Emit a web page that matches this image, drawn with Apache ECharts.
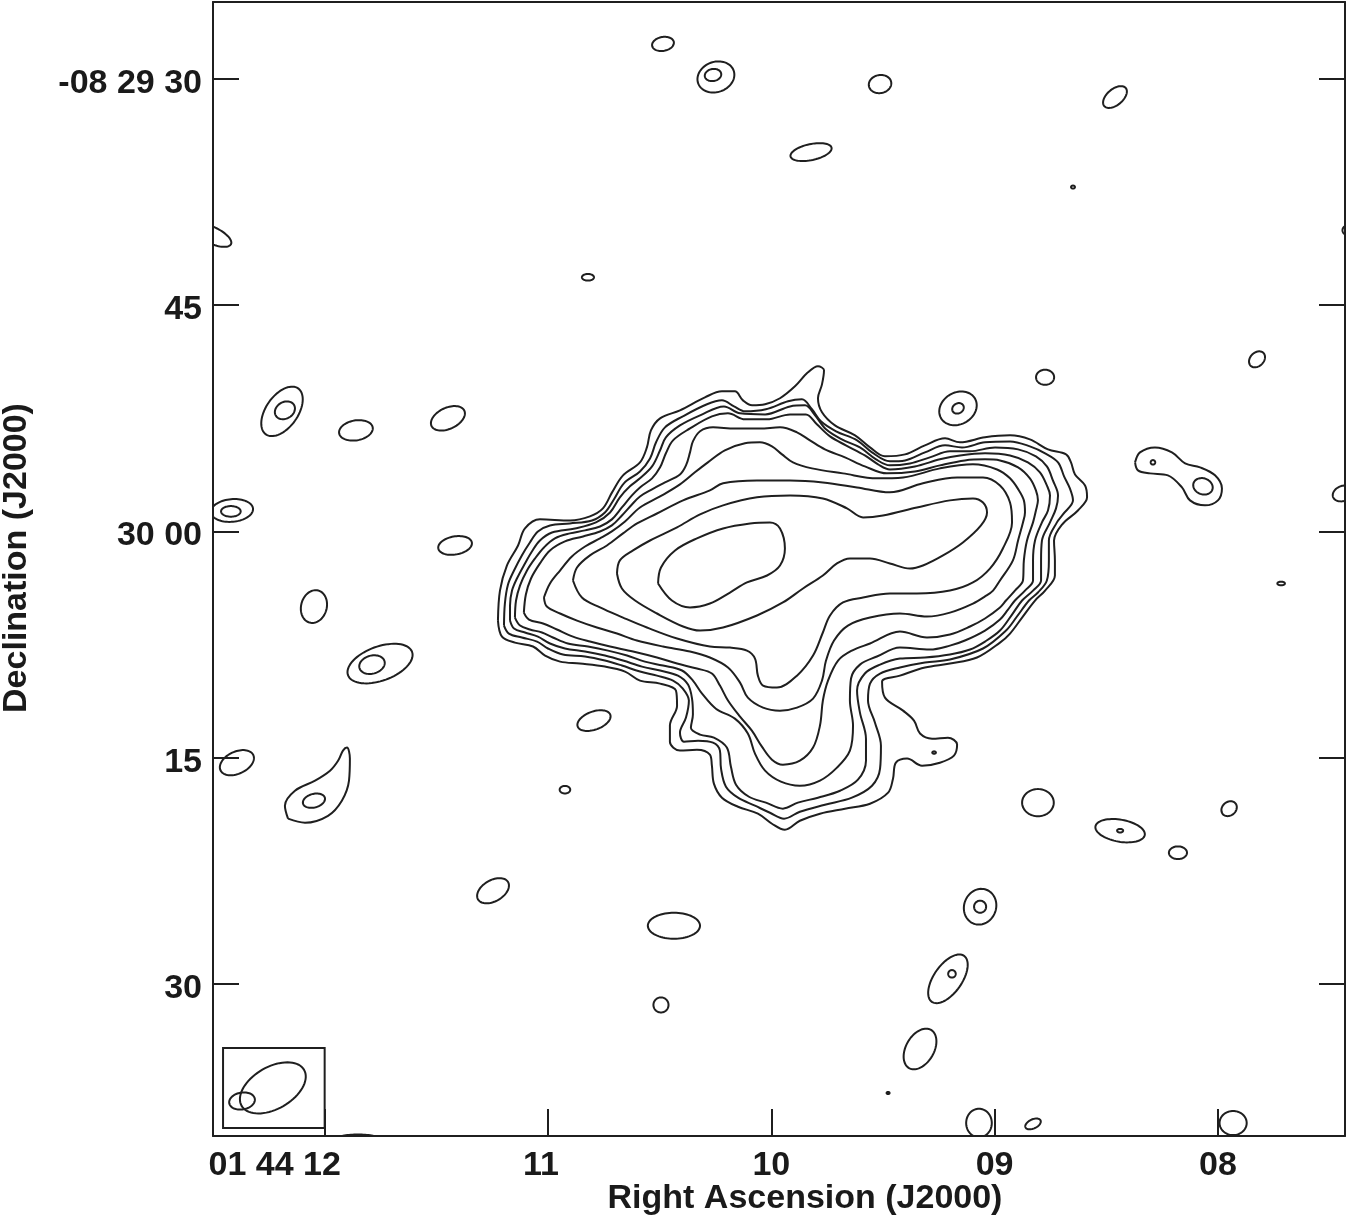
<!DOCTYPE html>
<html><head><meta charset="utf-8">
<script src="https://cdn.jsdelivr.net/npm/echarts@6/dist/echarts.min.js"></script>
<style>html,body{margin:0;padding:0;background:#fff}#c{width:1350px;height:1219px}</style>
</head><body><div id="c"></div>
<script>
// Axis ticks (RA in seconds of 01h44m, Dec in arcsec below -08d29m00s)
const raTicks = [12, 11, 10, 9, 8];
const raTickLabels = ['01 44 12', '11', '10', '09', '08'];
const decTicks = [30, 45, 60, 75, 90];
const decTickLabels = ['-08 29 30', '45', '30 00', '15', '30'];
const raRange = [7.431, 12.5];
const decRange = [24.9, 100.08];

// Main source contours, outermost (L1) to peak (L9): [RA s, Dec arcsec]
const contourL1 = [[11.224,65.91],[11.215,63.92],[11.184,62.26],[11.134,60.93],[11.103,59.80],[11.036,59.20],[10.901,59.27],[10.812,59.00],[10.754,58.47],[10.713,57.41],[10.664,56.28],[10.588,55.42],[10.557,54.43],[10.539,53.30],[10.498,52.50],[10.409,51.97],[10.297,51.11],[10.221,50.71],[10.163,50.71],[10.127,51.31],[10.086,51.64],[10.028,51.57],[9.961,51.17],[9.894,50.38],[9.836,49.45],[9.791,49.05],[9.764,49.32],[9.773,50.25],[9.791,51.17],[9.773,52.10],[9.715,52.97],[9.625,53.63],[9.558,54.43],[9.491,55.02],[9.401,54.89],[9.312,54.29],[9.222,53.83],[9.155,54.09],[9.043,53.76],[8.931,53.63],[8.842,53.90],[8.761,54.56],[8.680,54.89],[8.658,55.42],[8.640,56.22],[8.595,56.95],[8.586,57.74],[8.627,58.61],[8.698,59.54],[8.734,60.60],[8.730,61.92],[8.730,62.92],[8.774,63.92],[8.819,64.58],[8.877,65.71],[8.931,66.77],[8.976,67.37],[9.079,68.36],[9.200,68.76],[9.312,69.02],[9.424,69.56],[9.504,69.95],[9.491,71.02],[9.410,71.88],[9.361,72.54],[9.334,73.40],[9.280,73.74],[9.209,73.67],[9.168,74.13],[9.182,74.86],[9.245,75.33],[9.325,75.53],[9.392,75.06],[9.442,75.33],[9.455,76.39],[9.477,77.32],[9.558,78.05],[9.670,78.38],[9.782,78.71],[9.872,79.18],[9.939,79.78],[9.997,79.38],[10.060,78.71],[10.149,78.25],[10.221,77.65],[10.257,76.72],[10.266,75.53],[10.275,74.80],[10.333,74.47],[10.409,74.53],[10.454,73.94],[10.454,72.87],[10.422,71.55],[10.427,70.55],[10.498,70.09],[10.588,69.89],[10.655,69.29],[10.745,68.96],[10.857,68.76],[10.946,68.63],[11.013,68.23],[11.067,67.63],[11.148,67.37],[11.206,66.97]];
const contourL2 = [[11.197,66.24],[11.193,64.78],[11.179,63.52],[11.152,62.59],[11.117,61.59],[11.081,60.73],[11.045,60.00],[10.991,59.60],[10.902,59.47],[10.803,59.27],[10.745,58.74],[10.705,57.88],[10.660,56.81],[10.588,56.02],[10.543,55.16],[10.516,54.09],[10.476,53.10],[10.396,52.37],[10.288,51.57],[10.221,51.31],[10.167,51.71],[10.118,52.04],[10.024,51.90],[9.925,51.37],[9.863,51.24],[9.818,51.90],[9.778,52.70],[9.710,53.36],[9.616,53.96],[9.549,54.76],[9.469,55.35],[9.401,55.29],[9.312,54.76],[9.222,54.29],[9.146,54.43],[9.043,54.09],[8.931,54.03],[8.842,54.36],[8.774,54.82],[8.716,55.42],[8.689,56.35],[8.663,57.15],[8.649,57.94],[8.694,58.87],[8.721,59.40],[8.757,60.60],[8.757,61.92],[8.766,63.25],[8.806,64.05],[8.846,64.58],[8.900,65.64],[8.949,66.57],[9.052,67.76],[9.200,68.49],[9.312,68.69],[9.424,69.02],[9.513,69.42],[9.558,70.09],[9.567,71.21],[9.536,72.67],[9.509,74.20],[9.513,75.73],[9.549,76.86],[9.639,77.65],[9.760,78.12],[9.872,78.58],[9.943,79.04],[10.006,78.65],[10.073,78.18],[10.149,77.65],[10.203,76.92],[10.225,75.73],[10.230,74.53],[10.261,74.00],[10.328,73.87],[10.391,73.94],[10.409,73.34],[10.382,72.34],[10.369,71.21],[10.396,70.42],[10.440,69.89],[10.512,69.56],[10.588,69.29],[10.669,68.89],[10.745,68.56],[10.834,68.29],[10.933,68.16],[11.000,67.76],[11.049,67.30],[11.117,67.03],[11.175,66.77]];
const contourL3 = [[11.170,65.91],[11.170,64.91],[11.161,63.92],[11.139,63.12],[11.103,62.12],[11.072,61.33],[11.036,60.60],[10.982,60.07],[10.879,59.80],[10.785,59.40],[10.722,58.74],[10.678,57.74],[10.633,57.01],[10.588,56.48],[10.534,55.69],[10.498,54.62],[10.472,53.76],[10.409,52.97],[10.319,52.30],[10.212,51.71],[10.140,52.17],[10.028,52.24],[9.916,51.71],[9.849,51.64],[9.804,52.30],[9.755,53.23],[9.684,53.90],[9.603,54.43],[9.531,55.22],[9.469,55.62],[9.379,55.49],[9.290,55.09],[9.200,54.69],[9.110,54.69],[8.998,54.43],[8.895,54.56],[8.815,55.02],[8.766,55.69],[8.739,56.62],[8.716,57.61],[8.725,58.47],[8.752,59.40],[8.788,60.60],[8.792,61.92],[8.792,63.25],[8.828,63.92],[8.877,64.58],[8.922,65.51],[8.976,66.57],[9.043,67.30],[9.110,67.83],[9.200,68.16],[9.312,68.36],[9.424,68.43],[9.513,68.83],[9.581,69.42],[9.616,70.55],[9.603,72.01],[9.576,73.74],[9.576,75.20],[9.612,76.46],[9.692,77.19],[9.791,77.65],[9.881,77.98],[9.948,78.38],[10.024,77.98],[10.100,77.59],[10.158,76.79],[10.181,75.59],[10.199,74.33],[10.257,73.67],[10.319,73.47],[10.360,73.01],[10.351,72.14],[10.355,71.08],[10.373,70.15],[10.418,69.56],[10.498,69.22],[10.579,68.96],[10.664,68.56],[10.745,68.23],[10.834,67.96],[10.924,67.76],[10.991,67.43],[11.045,66.97],[11.103,66.70],[11.152,66.44]];
const contourL4 = [[11.148,65.71],[11.143,64.58],[11.125,63.58],[11.094,62.59],[11.058,61.79],[11.018,61.06],[10.969,60.46],[10.902,60.13],[10.834,59.93],[10.767,59.67],[10.714,59.20],[10.669,58.41],[10.624,57.61],[10.588,57.08],[10.534,56.48],[10.498,55.75],[10.472,54.82],[10.440,53.96],[10.364,53.17],[10.266,52.37],[10.194,52.17],[10.118,52.57],[10.019,52.57],[9.916,52.24],[9.845,52.24],[9.796,52.90],[9.737,53.70],[9.666,54.29],[9.581,54.96],[9.522,55.55],[9.469,55.89],[9.357,55.69],[9.245,55.22],[9.155,54.96],[9.043,54.82],[8.931,54.96],[8.851,55.42],[8.797,56.08],[8.766,56.95],[8.752,57.61],[8.761,58.61],[8.788,59.40],[8.819,60.60],[8.828,61.92],[8.828,63.25],[8.864,63.92],[8.909,64.58],[8.940,65.18],[8.976,65.84],[9.043,66.57],[9.133,67.23],[9.200,67.57],[9.290,67.83],[9.424,67.70],[9.527,68.29],[9.603,68.83],[9.643,69.75],[9.648,71.21],[9.634,72.87],[9.648,74.53],[9.706,75.66],[9.782,76.52],[9.872,76.86],[9.957,76.59],[10.028,75.86],[10.073,74.73],[10.105,73.40],[10.163,72.41],[10.248,71.75],[10.310,70.75],[10.351,69.89],[10.400,69.22],[10.485,68.89],[10.566,68.63],[10.646,68.23],[10.731,67.90],[10.821,67.63],[10.911,67.43],[10.978,67.03],[11.027,66.70],[11.081,66.50],[11.125,66.24]];
const contourL5 = [[11.108,65.38],[11.099,64.18],[11.076,63.12],[11.036,62.12],[10.991,61.26],[10.924,60.66],[10.843,60.33],[10.767,60.00],[10.714,59.60],[10.669,58.94],[10.624,58.21],[10.588,57.68],[10.534,57.21],[10.476,56.75],[10.409,56.22],[10.382,55.62],[10.364,54.76],[10.351,54.03],[10.319,53.36],[10.261,53.10],[10.163,53.17],[10.051,53.17],[9.961,53.10],[9.885,53.43],[9.827,53.96],[9.760,54.56],[9.670,55.09],[9.581,55.69],[9.482,56.15],[9.357,56.02],[9.245,55.62],[9.133,55.29],[9.043,55.22],[8.976,55.29],[8.895,55.75],[8.842,56.48],[8.815,57.28],[8.806,57.94],[8.815,58.61],[8.828,59.40],[8.855,60.60],[8.869,61.92],[8.873,63.25],[8.909,63.92],[8.949,64.58],[8.976,65.04],[9.043,65.77],[9.110,66.30],[9.200,66.83],[9.303,67.03],[9.424,66.64],[9.558,67.43],[9.639,67.90],[9.701,68.56],[9.746,69.89],[9.769,71.21],[9.782,72.87],[9.813,74.33],[9.872,75.20],[9.948,75.46],[9.997,75.13],[10.042,74.27],[10.087,73.21],[10.140,72.28],[10.194,71.21],[10.230,70.22],[10.266,69.42],[10.333,69.09],[10.422,68.76],[10.512,68.36],[10.619,67.96],[10.722,67.63],[10.812,67.30],[10.888,66.97],[10.960,66.50],[11.022,66.10],[11.085,65.84]];
const contourL6 = [[11.018,64.38],[10.991,63.45],[10.946,62.59],[10.893,61.66],[10.834,61.00],[10.767,60.46],[10.714,60.00],[10.655,59.34],[10.588,58.41],[10.498,57.68],[10.409,56.88],[10.342,56.08],[10.284,55.42],[10.208,54.62],[10.118,54.16],[10.051,54.09],[9.997,54.36],[9.952,54.89],[9.903,55.42],[9.818,55.82],[9.679,56.15],[9.527,56.48],[9.410,56.42],[9.245,55.82],[9.097,55.55],[8.989,55.89],[8.931,56.48],[8.891,57.28],[8.869,57.94],[8.864,58.74],[8.873,59.40],[8.895,60.60],[8.918,61.92],[8.976,63.25],[9.007,63.92],[9.043,64.31],[9.097,64.78],[9.200,65.38],[9.303,65.64],[9.424,65.44],[9.558,65.71],[9.657,66.24],[9.719,67.23],[9.755,68.56],[9.773,69.89],[9.813,71.08],[9.885,71.68],[9.961,71.88],[10.037,71.68],[10.105,71.02],[10.140,70.02],[10.194,69.02],[10.275,68.36],[10.364,67.96],[10.485,67.63],[10.602,67.23],[10.691,66.77],[10.781,66.37],[10.870,65.91],[10.946,65.44],[11.005,64.98]];
const contourL7 = [[10.888,63.25],[10.870,62.39],[10.812,61.59],[10.736,60.93],[10.664,60.13],[10.601,59.47],[10.512,58.81],[10.395,57.94],[10.275,57.28],[10.216,56.81],[10.064,56.62],[9.916,56.62],[9.769,56.75],[9.616,57.08],[9.469,57.41],[9.321,56.81],[9.168,56.42],[9.052,56.42],[8.976,56.95],[8.931,58.08],[8.922,59.40],[8.963,61.13],[9.021,62.46],[9.097,63.38],[9.200,63.92],[9.348,64.11],[9.469,64.11],[9.589,64.38],[9.679,64.71],[9.737,65.57],[9.769,66.70],[9.813,68.23],[9.885,69.56],[9.975,70.35],[10.037,70.22],[10.060,69.56],[10.073,68.43],[10.109,67.90],[10.185,67.70],[10.275,67.63],[10.422,67.10],[10.557,66.37],[10.664,65.71],[10.767,65.04],[10.848,64.38]];
const contourL8 = [[10.691,62.79],[10.678,61.92],[10.619,61.26],[10.543,60.60],[10.422,59.73],[10.319,58.87],[10.216,58.27],[10.064,57.74],[9.916,57.61],[9.769,57.81],[9.661,58.47],[9.589,59.07],[9.500,58.94],[9.348,58.41],[9.200,57.94],[9.097,57.81],[9.052,58.08],[9.034,58.74],[9.061,59.60],[9.142,60.73],[9.231,61.59],[9.321,62.26],[9.379,62.46],[9.469,62.12],[9.558,61.79],[9.648,61.79],[9.706,62.12],[9.769,62.92],[9.858,63.78],[9.948,64.71],[10.064,65.57],[10.216,66.37],[10.319,66.57],[10.395,66.30],[10.512,65.44],[10.610,64.58],[10.669,63.78]];
const contourL9 = [[10.507,63.45],[10.494,62.39],[10.431,61.26],[10.333,60.46],[10.216,59.80],[10.095,59.47],[10.006,59.40],[9.961,59.80],[9.939,61.13],[9.961,62.26],[10.019,62.92],[10.109,63.38],[10.185,64.05],[10.275,64.78],[10.364,65.04],[10.445,64.58]];
const mainContours = [contourL1, contourL2, contourL3, contourL4, contourL5, contourL6, contourL7, contourL8, contourL9];

// Irregular small contours
const blobEastTadpole = [[12.164,79.04],[12.178,78.18],[12.133,77.19],[12.043,76.52],[11.976,75.86],[11.940,75.20],[11.918,74.53],[11.900,74.33],[11.887,75.06],[11.891,76.52],[11.923,77.85],[11.985,78.85],[12.088,79.31]];
const blobWestPair = [[8.371,55.42],[8.349,54.76],[8.282,54.43],[8.206,54.76],[8.147,55.49],[8.080,55.75],[8.013,56.28],[7.982,57.15],[8.000,57.94],[8.058,58.27],[8.125,57.94],[8.161,57.08],[8.224,56.28],[8.304,56.15],[8.358,55.95]];
const irregularContours = [blobEastTadpole, blobWestPair];

// Elliptical noise contours: [RA, Dec, semi-major arcsec, semi-minor arcsec, tilt deg]
const blobs = [
 [10.485,27.68,0.73,0.46,-10],[10.248,29.87,1.25,1.0,-20],[10.261,29.74,0.55,0.4,-10],
 [9.513,30.34,0.75,0.6,-10],[8.461,31.2,0.93,0.53,-40],[9.822,34.85,1.39,0.53,-12],
 [8.649,37.17,0.13,0.1,0],[12.505,40.36,1.4,0.55,25],[7.422,40.03,0.3,0.3,0],
 [10.821,43.15,0.4,0.22,0],[7.825,48.59,0.6,0.45,-45],[8.774,49.78,0.6,0.5,0],
 [12.191,52.04,1.86,1.06,-55],[12.178,51.97,0.7,0.55,-30],[11.860,53.30,1.13,0.66,-10],
 [11.448,52.50,1.2,0.7,-25],[9.164,51.84,1.3,1.05,-30],[9.164,51.84,0.4,0.33,-30],
 [8.067,57.01,0.66,0.53,20],[8.291,55.42,0.15,0.15,0],[7.440,57.48,0.7,0.5,-20],
 [12.415,58.61,1.4,0.75,-5],[12.420,58.67,0.65,0.35,0],[11.416,60.93,1.13,0.6,-10],
 [12.048,64.98,0.85,1.1,15],[11.752,68.76,2.26,1.13,-20],[11.788,68.83,0.86,0.6,-15],
 [10.794,72.54,1.15,0.6,-20],[12.393,75.33,1.2,0.73,-25],[10.924,77.12,0.35,0.25,0],
 [12.048,77.85,0.75,0.45,-15],[9.271,74.66,0.12,0.08,0],[8.806,77.98,1.05,0.9,0],
 [7.950,78.38,0.55,0.45,-40],[8.438,79.84,1.66,0.73,10],[8.438,79.84,0.2,0.12,0],
 [8.179,81.30,0.6,0.42,0],[11.246,83.82,1.15,0.7,-30],[10.436,86.14,1.73,0.86,0],
 [9.065,84.88,1.06,1.2,20],[9.065,84.88,0.4,0.4,0],[9.209,89.66,1.86,0.93,-55],
 [9.191,89.33,0.25,0.25,0],[10.494,91.39,0.5,0.5,0],[9.334,94.31,1.46,0.93,-60],
 [9.477,97.23,0.1,0.07,0],[9.070,99.22,0.85,0.95,0],[8.828,99.28,0.55,0.3,-25],
 [7.932,99.22,0.9,0.8,0],[11.851,100.28,1.4,0.3,0],[7.717,63.45,0.25,0.12,0]
];
// Restoring beam(s) and beam box: [RA, Dec, major, minor, tilt]
const beams = [[12.232,96.89,2.39,1.39,-30],[12.370,97.76,0.86,0.56,-10]];
const beamBox = [[12.455,94.24,12.0,99.55]];

const LINE = '#1f1f1f';
const FONT = '"Liberation Sans", Arial, Helvetica, sans-serif';
const closed = a => a.concat([a[0]]);

function ellipseItem(params, api) {
  const c = api.coord([api.value(0), api.value(1)]);
  const k = Math.abs(api.size([0, 1])[1]);
  const rx = api.value(2) * k, ry = api.value(3) * k, th = api.value(4) * Math.PI / 180;
  const pts = [];
  for (let i = 0; i < 72; i++) {
    const t = i / 72 * 2 * Math.PI, x = rx * Math.cos(t), y = ry * Math.sin(t);
    pts.push([c[0] + x * Math.cos(th) - y * Math.sin(th), c[1] + x * Math.sin(th) + y * Math.cos(th)]);
  }
  return { type: 'polygon', shape: { points: pts }, style: { fill: 'none', stroke: LINE, lineWidth: 2 } };
}

const lineSeries = mainContours.concat(irregularContours).map(c => ({
  type: 'line', data: closed(c), smooth: 0.35, symbol: 'none', showSymbol: false,
  lineStyle: { color: LINE, width: 2 }, silent: true, clip: true, animation: false
}));

const labelStyle = { fontFamily: FONT, fontWeight: 'bold', fontSize: 34, color: '#1a1a1a' };

const option = {
  animation: false,
  backgroundColor: '#fff',
  grid: { left: 213, right: 5, top: 2, bottom: 83, containLabel: false, outerBoundsMode: 'none' },
  xAxis: [{
    type: 'value', min: raRange[0], max: raRange[1], inverse: true, position: 'bottom',
    axisLine: { show: true, onZero: false, lineStyle: { color: LINE, width: 2 } },
    axisTick: { show: true, inside: true, length: 27, customValues: raTicks, lineStyle: { color: LINE, width: 2 } },
    axisLabel: { show: true, customValues: raTicks, margin: 13, ...labelStyle,
      formatter: v => { const i = raTicks.indexOf(Math.round(v)); return i === 0 ? '{s|' + raTickLabels[0] + '}' : (i === 1 ? '{e|' + raTickLabels[1] + '}' : raTickLabels[i]); },
      rich: { s: { ...labelStyle, padding: [0, 100, 0, 0] }, e: { ...labelStyle, padding: [0, 14, 0, 0] } } },
    splitLine: { show: false },
    name: 'Right Ascension (J2000)', nameLocation: 'middle', nameGap: 46, nameMoveOverlap: false,
    nameTextStyle: { ...labelStyle, padding: [0, 0, 0, 52] }
  }, {
    type: 'value', min: raRange[0], max: raRange[1], inverse: true, position: 'top',
    axisLine: { show: true, onZero: false, lineStyle: { color: LINE, width: 2 } },
    axisTick: { show: false }, axisLabel: { show: false }, splitLine: { show: false }
  }],
  yAxis: [{
    type: 'value', min: decRange[0], max: decRange[1], inverse: true, position: 'left',
    axisLine: { show: true, onZero: false, lineStyle: { color: LINE, width: 2 } },
    axisTick: { show: true, inside: true, length: 26, customValues: decTicks, lineStyle: { color: LINE, width: 2 } },
    axisLabel: { show: true, customValues: decTicks, margin: 11, ...labelStyle,
      formatter: v => '{d|' + decTickLabels[decTicks.indexOf(Math.round(v))] + '}',
      rich: { d: { ...labelStyle, padding: [9, 0, 0, 0] } } },
    splitLine: { show: false },
    name: 'Declination (J2000)', nameLocation: 'middle', nameGap: 179,
    nameTextStyle: { ...labelStyle, padding: [0, 0, 0, 22] }
  }, {
    type: 'value', min: decRange[0], max: decRange[1], inverse: true, position: 'right',
    axisLine: { show: true, onZero: false, lineStyle: { color: LINE, width: 2 } },
    axisTick: { show: true, inside: true, length: 26, customValues: decTicks, lineStyle: { color: LINE, width: 2 } },
    axisLabel: { show: false }, splitLine: { show: false }
  }],
  series: lineSeries.concat([
    { type: 'custom', data: blobs, clip: true, silent: true, animation: false, renderItem: ellipseItem },
    { type: 'custom', data: beams, clip: true, silent: true, animation: false, renderItem: ellipseItem },
    { type: 'custom', data: beamBox, silent: true, animation: false,
      renderItem: (params, api) => {
        const a = api.coord([api.value(0), api.value(1)]), b = api.coord([api.value(2), api.value(3)]);
        return { type: 'rect', shape: { x: Math.min(a[0], b[0]), y: Math.min(a[1], b[1]), width: Math.abs(b[0] - a[0]), height: Math.abs(b[1] - a[1]) },
          style: { fill: 'none', stroke: LINE, lineWidth: 2 } };
      } }
  ])
};
const chart = echarts.init(document.getElementById('c'));
chart.setOption(option);
</script>
</body></html>
